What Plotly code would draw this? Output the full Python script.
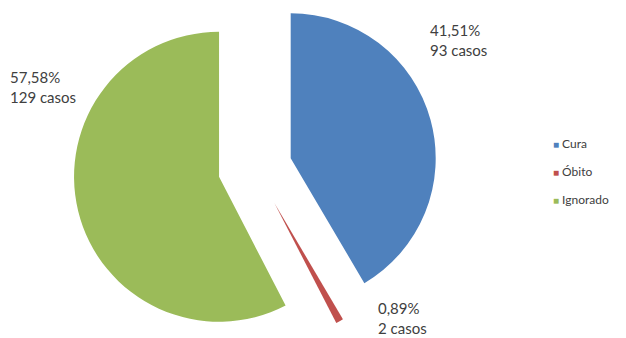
import math
import plotly.graph_objects as go

# ---- data ----
labels = ["Cura", "Óbito", "Ignorado"]
values = [93, 2, 129]
colors = ["#4F81BD", "#C0504D", "#9BBB59"]

# ---- layout constants (pixels) ----
W, H = 626, 338
CX, CY = 255, 168          # common centre of the un-exploded pie
R = 145                    # pie radius
PULL_PX = [37, 40, 37]     # explode distance of each slice
FONT = "Lato"
TXT = "#404040"

total = sum(values)

fig = go.Figure()

# one pie per slice, each shifted along its mid-angle (exploded pie)
start = 0.0
for i, v in enumerate(values):
    sweep = 360.0 * v / total
    mid = math.radians(start + sweep / 2)
    start += sweep
    cx = CX + PULL_PX[i] * math.sin(mid)
    cy = CY - PULL_PX[i] * math.cos(mid)
    r = min(R, cx, W - cx, cy, H - cy)
    slice_colors = [c if j == i else "rgba(0,0,0,0)" for j, c in enumerate(colors)]
    fig.add_trace(go.Pie(
        labels=labels, values=values, sort=False, direction="clockwise",
        rotation=0, textinfo="none", hoverinfo="skip", showlegend=False,
        marker=dict(colors=slice_colors, line=dict(width=0)),
        domain=dict(x=[(cx - r) / W, (cx + r) / W],
                    y=[(H - cy - r) / H, (H - cy + r) / H]),
    ))

# data labels (percent truncated to 2 decimals, Brazilian decimal comma)
label_pos = [(428, 19), (376, 297), (8, 66)]   # left, top in px
for i, v in enumerate(values):
    pct = math.floor(v / total * 10000) / 100
    txt = f"{pct:.2f}".replace(".", ",") + "%<br>" + f"{v} casos"
    x, y = label_pos[i]
    fig.add_annotation(x=x / W, y=1 - y / H, xref="paper", yref="paper",
                       xanchor="left", yanchor="top", align="left",
                       text=txt, showarrow=False,
                       font=dict(family=FONT, size=15, color=TXT))

# legend
leg_x, leg_y0, leg_dy = 551, 144, 27.5
for i, lab in enumerate(labels):
    fig.add_annotation(
        x=leg_x / W, y=1 - (leg_y0 + i * leg_dy) / H, xref="paper", yref="paper",
        xanchor="left", yanchor="middle", showarrow=False,
        text=f'<span style="color:{colors[i]};font-size:10px">■</span> {lab}',
        font=dict(family=FONT, size=12, color=TXT))

fig.update_layout(width=W, height=H, margin=dict(l=0, r=0, t=0, b=0),
                  paper_bgcolor="white", plot_bgcolor="white")

fig.write_html("out.html",
               config={"displayModeBar": False},
               post_script="document.body.style.margin='0';"
                           "document.body.style.overflow='hidden';")
